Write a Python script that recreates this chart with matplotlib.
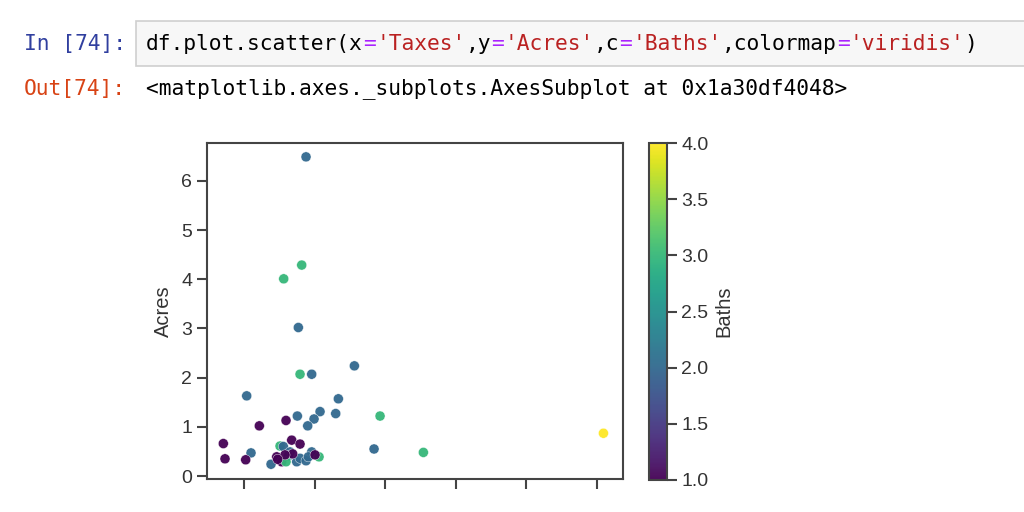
import numpy as np
import matplotlib
matplotlib.use("Agg")
import matplotlib.pyplot as plt
from matplotlib.patches import Rectangle

# values (Taxes axis has no tick labels in the original)
taxes = [4375, 4068, 2791, 3831, 3950, 4777, 7805, 166, 6669, 5369, 6480,
         3760, 9626, 4943, 2956, 4494, 1064, 25471, 2531, 2767, 9200,
         473, 4777, 5298, 3240, 12700, 3713, 3950, 4375, 4541, 3122, 1892,
         -1490, 3358, 3950, 5014, 3429, -1372, 95, 2294, 2649, 2956,
         2885, 2365]
acres = [6.49, 4.29, 4.01, 3.02, 2.07, 2.07, 2.24, 1.63, 1.57, 1.31, 1.27,
         1.22, 1.22, 1.16, 1.13, 1.02, 1.02, 0.87, 0.61, 0.60, 0.55,
         0.47, 0.49, 0.39, 0.49, 0.48, 0.29, 0.36, 0.31, 0.39, 0.41, 0.24,
         0.66, 0.73, 0.65, 0.43, 0.45, 0.35, 0.33, 0.39, 0.29, 0.29,
         0.43, 0.34]
baths = [2, 3, 3, 2, 3, 2, 2, 2, 2, 2, 2,
         2, 3, 2, 1, 2, 1, 4, 3, 2, 2,
         2, 2, 3, 2, 3, 2, 2, 2, 2, 2, 2,
         1, 1, 1, 1, 1, 1, 1, 1, 1, 3,
         1, 1]

code_tokens = [("df.plot.scatter(x", "black"), ("=", "#aa22ff"), ("'Taxes'", "#ba2121"),
               (",y", "black"), ("=", "#aa22ff"), ("'Acres'", "#ba2121"),
               (",c", "black"), ("=", "#aa22ff"), ("'Baths'", "#ba2121"),
               (",colormap", "black"), ("=", "#aa22ff"), ("'viridis'", "#ba2121"),
               (")", "black")]
out_text = "<matplotlib.axes._subplots.AxesSubplot at 0x1a30df4048>"

plt.rcParams['font.family'] = ['Liberation Sans', 'DejaVu Sans']
plt.rcParams['text.color'] = '#333333'
plt.rcParams['axes.labelcolor'] = '#333333'
plt.rcParams['xtick.color'] = '#444444'
plt.rcParams['ytick.color'] = '#444444'
plt.rcParams['xtick.labelcolor'] = '#333333'
plt.rcParams['ytick.labelcolor'] = '#333333'

fig = plt.figure(figsize=(10.24, 5.12), dpi=100)

# notebook cell background, drawn in pixel coordinates
bg = fig.add_axes([0, 0, 1, 1])
bg.set_xlim(0, 1024)
bg.set_ylim(512, 0)
bg.axis('off')
bg.add_patch(Rectangle((136, 21), 900, 45, facecolor='#f7f7f7', edgecolor='#cfcfcf', lw=1.2))

mono = 'DejaVu Sans Mono'
fs = 15.3
cw = 0.602 * fs * 100 / 72  # char advance in px
bg.text(126, 44, "In [74]:", family=mono, fontsize=fs, color='#303f9f', ha='right', va='center')
bg.text(126, 89, "Out[74]:", family=mono, fontsize=fs, color='#d84315', ha='right', va='center')
pos = 0
for tok, col in code_tokens:
    bg.text(146 + pos * cw, 44, tok, family=mono, fontsize=fs, color=col, ha='left', va='center')
    pos += len(tok)
bg.text(146, 89, out_text, family=mono, fontsize=fs, color='black', ha='left', va='center')

# scatter chart
ax = fig.add_axes([0.2019, 0.0645, 0.4065, 0.656])
sc = ax.scatter(taxes, acres, c=baths, cmap='viridis', vmin=1, vmax=4, s=52,
                edgecolors='white', linewidths=0.3, alpha=0.95, zorder=3)
ax.set_xlim(-2667, 26858)
ax.set_ylim(-0.06, 6.77)
ax.set_xticks(np.arange(0, 25001, 5000))
ax.set_xticklabels([])
ax.set_yticks(range(0, 7))
ax.set_ylabel('Acres', fontsize=14.5, labelpad=6)
ax.tick_params(labelsize=14, length=7, width=1.5, direction='out')
for sp in ax.spines.values():
    sp.set_color('#444444')
    sp.set_linewidth(1.5)

cax = fig.add_axes([0.6338, 0.0625, 0.0173, 0.658])
cb = fig.colorbar(sc, cax=cax)
cb.set_ticks(np.arange(1.0, 4.01, 0.5))
cb.set_label('Baths', fontsize=14.5)
cb.ax.tick_params(labelsize=14, length=7, width=1.5)
cb.outline.set_edgecolor('#444444')
cb.outline.set_linewidth(1.5)

fig.savefig('out.png', dpi=100)
